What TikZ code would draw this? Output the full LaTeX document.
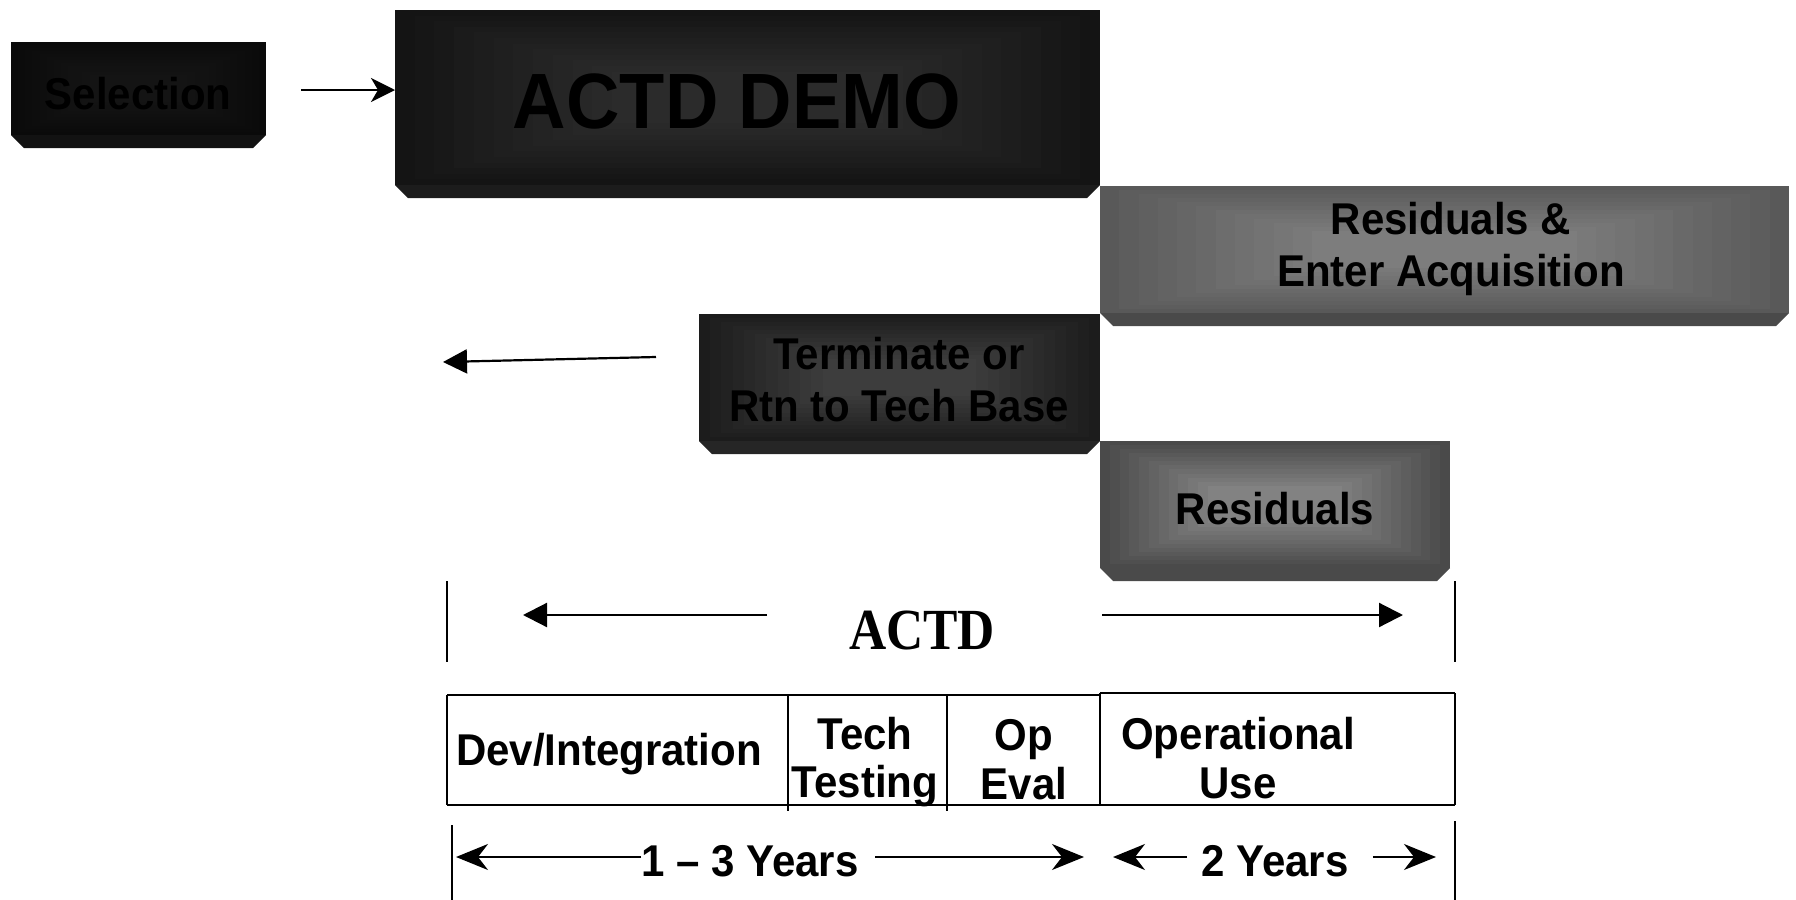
\documentclass[tikz,border=0pt]{standalone}
\usepackage{fontspec}
\setmainfont{Liberation Sans}
\newfontfamily\actdserif{Liberation Serif}
\usetikzlibrary{arrows.meta}
\newcommand\bevelbox[8]{%
  \colorlet{bbout}{#6}\colorlet{bbin}{#7}\colorlet{bbbev}{#8}%
  \fill[bbbev] (#2,#5) -- (#4,#5) -- ({#4-13},{#5+13}) -- ({#2+13},{#5+13}) -- cycle;
  \foreach \i in {0,...,11}{%
    \pgfmathsetmacro\dxx{\i*(#4-#2)*0.028}%
    \pgfmathsetmacro\dyy{\i*(#5-#3)*0.032}%
    \pgfmathtruncatemacro\pp{\i*100/11}%
    \fill[bbin!\pp!bbout] ({#2+\dxx},{#3+\dyy}) rectangle ({#4-\dxx},{#5-\dyy});
  }%
  \coordinate (#1-w) at (#2,{(#3+#5)/2});
  \coordinate (#1-e) at (#4,{(#3+#5)/2});
}
\tikzset{
  lab/.style={font=\bfseries\fontsize{21}{24.5}\selectfont, align=center, inner sep=0pt, text=black, yscale=1.06},
  tab/.style={lab, font=\bfseries\fontsize{21}{23}\selectfont},
  tl/.style={line width=1pt, black},
  arrT/.style={line width=1.1pt, -{Triangle[length=12pt,width=12pt]}},
  arrSel/.style={line width=1.1pt, -{Stealth[length=12pt,width=12pt,inset=3.5pt]}},
  arrS/.style={line width=1pt, -{Stealth[length=16pt,width=13pt,inset=5pt]}},
}
\begin{document}
\begin{tikzpicture}[x=0.5pt,y=-0.5pt]
\useasboundingbox (0,0) rectangle (1796,900);
% boxes
\bevelbox{sel}{11}{42}{266}{135}{black!96}{black!92}{black!93}
\bevelbox{demo}{395}{10}{1100}{185}{black!92}{black!83}{black!89}
\bevelbox{rea}{1100}{186}{1789}{313}{black!65}{black!51}{black!71}
\bevelbox{term}{699}{314}{1100}{441}{black!89}{black!76}{black!85}
\bevelbox{res}{1100}{441}{1450}{568}{black!71}{black!49}{black!71}
\node[lab] (selT) at (138,94) {Selection};
\node[lab, font=\bfseries\fontsize{37}{40}\selectfont] (demoT) at (737,101) {ACTD DEMO};
\node[lab] (reaT) at (1451,249) {Residuals \&\\Enter Acquisition};
\node[lab] (termT) at (899,380) {Terminate or\\Rtn to Tech Base};
\node[lab] (resT) at (1275,509) {Residuals};
% connectors
\coordinate (selA) at (301,90);
\coordinate (termA) at (656,357);
\coordinate (termB) at (443,362);
\draw[arrSel] (selA) -- (demo-w |- selA);
\draw[arrT] (termA) -- (termB);
% ACTD span
\draw[tl] (447,581) -- (447,662);
\draw[tl] (1455,581) -- (1455,662);
\node[inner sep=0pt, font=\actdserif\bfseries\fontsize{28}{30}\selectfont, xscale=0.92, yscale=1.04] (actd) at (922,630) {ACTD};
\coordinate (aL1) at (767,615);
\coordinate (aL2) at (523,615);
\coordinate (aR1) at (1102,615);
\coordinate (aR2) at (1403,615);
\draw[arrT] (aL1) -- (aL2);
\draw[arrT] (aR1) -- (aR2);
% table
\draw[tl] (447,695) -- (1100,695);
\draw[tl] (1100,693) -- (1455,693);
\draw[tl] (447,805) -- (1455,805);
\draw[tl] (447,695) -- (447,805);
\draw[tl] (1455,693) -- (1455,805);
\draw[tl] (1100,693) -- (1100,805);
\draw[line width=0.8pt] (788,695) -- (788,811);
\draw[line width=0.8pt] (947,695) -- (947,811);
\node[tab] (dev) at (609,754) {Dev/Integration};
\node[tab] (tech) at (865,762) {Tech\\Testing};
\node[tab] (opev) at (1024,760) {Op\\Eval};
\node[tab] (opuse) at (1238,758) {Operational\\Use};
% years
\draw[tl] (452,825) -- (452,900);
\draw[tl] (1455,821) -- (1455,900);
\node[lab] (y13) at (750,861) {1 -- 3 Years};
\node[lab] (y2) at (1275,861) {2 Years};
\coordinate (y13L) at (456,857);
\coordinate (y13R) at (1084,857);
\coordinate (y2L) at (1113,857);
\coordinate (y2R) at (1436,857);
\draw[arrS] (y13.west |- y13L) -- (y13L);
\draw[arrS] ([xshift=8pt]y13.east |- y13R) -- (y13R);
\draw[arrS] ([xshift=-7pt]y2.west |- y2L) -- (y2L);
\draw[arrS] ([xshift=12pt]y2.east |- y2R) -- (y2R);
\end{tikzpicture}
\end{document}
